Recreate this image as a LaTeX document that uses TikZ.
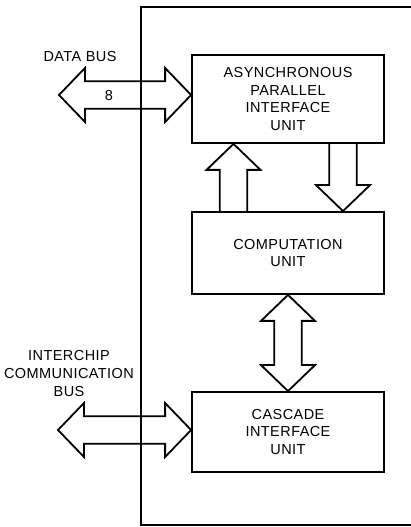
\documentclass[tikz,border=0pt]{standalone}
\usepackage{fontspec}
\setmainfont[LetterSpace=3]{Liberation Sans}
\usetikzlibrary{calc}
\begin{document}
\begin{tikzpicture}[x=1pt,y=1pt,
  lw/.style={line width=1.8pt},
  unit/.style={lw,draw,minimum width=192pt,minimum height=#1,inner sep=0pt,align=center,
    font=\fontsize{14.5}{17.7}\selectfont},
  lbl/.style={align=center,inner sep=0pt,font=\fontsize{14.5}{18}\selectfont},
  blk/.style={lw,line join=miter}]
\useasboundingbox (0,0) rectangle (411,527);
\def\hl{26}\def\hh{27}\def\sh{13.8}
\newcommand\hdbl[2]{\draw[blk] (#1) -- ++(\hl,\hh) -- ++(0,-\hh+\sh) -- ($(#2)+(-\hl,\sh)$) -- ++(0,\hh-\sh) -- (#2) -- ++(-\hl,-\hh) -- ++(0,\hh-\sh) -- ($(#1)+(\hl,-\sh)$) -- ++(0,-\hh+\sh) -- cycle;}
\newcommand\vdbl[2]{% #1 bottom tip, #2 top tip
  \draw[blk] (#1) -- ++(\hh,\hl) -- ++(-\hh+\sh,0) -- ($(#2)+(\sh,-\hl)$) -- ++(\hh-\sh,0) -- (#2) -- ++(-\hh,-\hl) -- ++(\hh-\sh,0) -- ($(#1)+(-\sh,\hl)$) -- ++(-\hh+\sh,0) -- cycle;}
% frame
\draw[lw] (411,520) -- (141,520) -- (141,2) -- (411,2);
% units
\node[unit=88pt] (apiu) at (288,428) {ASYNCHRONOUS\\PARALLEL\\INTERFACE\\UNIT};
\node[unit=82pt] (comp) at (288,274) {COMPUTATION\\UNIT};
\node[unit=80pt] (casc) at (288,95) {CASCADE\\INTERFACE\\UNIT};
% labels
\node[lbl] (dblbl) at (80,470) {DATA BUS};
\node[lbl] (eight) at (109,431) {8};
\node[lbl] (iclbl) at (69,153) {INTERCHIP\\COMMUNICATION\\BUS};
% buses
\coordinate (dbt) at (59,432);
\coordinate (ict) at (58,97);
\hdbl{dbt}{apiu.west |- dbt}
\hdbl{ict}{casc.west |- ict}
% up arrow comp -> apiu, down arrow apiu -> comp
\coordinate (upx) at (233.5,0);
\coordinate (dnx) at (343,0);
\draw[blk] ($(comp.north -| upx)+(-\sh,0)$) -- ($(apiu.south -| upx)+(-\sh,-\hl)$) -- ($(apiu.south -| upx)+(-\hh,-\hl)$) -- (apiu.south -| upx) -- ($(apiu.south -| upx)+(\hh,-\hl)$) -- ($(apiu.south -| upx)+(\sh,-\hl)$) -- ($(comp.north -| upx)+(\sh,0)$);
\draw[blk] ($(apiu.south -| dnx)+(-\sh,0)$) -- ($(comp.north -| dnx)+(-\sh,\hl)$) -- ($(comp.north -| dnx)+(-\hh,\hl)$) -- (comp.north -| dnx) -- ($(comp.north -| dnx)+(\hh,\hl)$) -- ($(comp.north -| dnx)+(\sh,\hl)$) -- ($(apiu.south -| dnx)+(\sh,0)$);
\vdbl{casc.north}{comp.south}
\end{tikzpicture}
\end{document}
